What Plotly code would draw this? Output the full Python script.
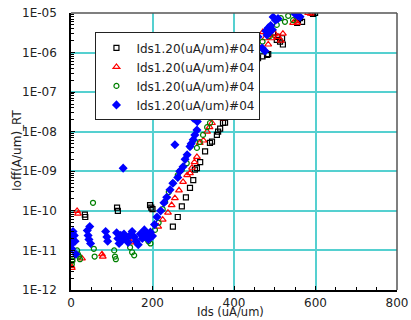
import plotly.graph_objects as go

# Off-state leakage vs drive current, four measurement groups
series_name = "Ids1.20(uA/um)#04"

black_x = [2, 2, 3, 34, 35, 113, 115, 194, 197, 200, 250, 262, 272, 282, 292, 300, 304,
           309, 317, 329, 341, 346, 358, 361, 366, 373, 378, 390, 395, 402, 459, 470, 481,
           484, 496, 505, 508, 513, 518, 520, 555, 557, 562, 567, 591, 594, 599]
black_y = [2.2e-11, 1.8e-11, 6e-12, 8e-11, 7e-11, 1.2e-10, 1.0e-10, 1.4e-10, 1.2e-10, 1.1e-10,
           4e-11, 7e-11, 1.3e-10, 2.2e-10, 3.8e-10, 6e-10, 1.1e-09,
           1.2e-09, 1.7e-09, 3.2e-09, 5.2e-09, 5.6e-09, 8.3e-09, 1.0e-08, 1.2e-08, 1.66e-08, 1.7e-08,
           2.6e-08, 3.0e-08, 4.8e-08, 7.2e-07, 8e-07, 8.7e-07,
           9.1e-07, 3.2e-06, 2.1e-06, 2.5e-06, 1.9e-06, 2.3e-06, 1.6e-06, 5.6e-06, 6.6e-06, 7.4e-06,
           6.0e-06, 1.0e-05, 9.5e-06, 1.0e-05]

red_x = [1, 2, 15, 17, 27, 76, 78, 147, 199, 214, 225, 238, 247, 255, 265, 275, 285, 292,
         297, 303, 309, 316, 325, 334, 340, 346, 353, 361, 370, 378, 464, 471, 476, 484,
         488, 493, 500, 508, 515, 520, 545, 550, 555, 582, 588]
red_y = [4e-12, 3.6e-12, 1.0e-10, 8.5e-11, 6.3e-12, 8e-12, 7e-12, 1.6e-11, 2.5e-11, 4e-11,
         6e-11, 9e-11, 1.4e-10, 2.1e-10, 3.3e-10, 5.4e-10, 8e-10, 9e-10,
         1.23e-09, 1.7e-09, 2.3e-09, 5.2e-09, 6e-09, 1.0e-08, 1.3e-08, 1.66e-08, 4.2e-08, 3.2e-08,
         2.2e-08, 3.0e-08, 1.3e-06, 3.3e-06, 2.3e-06, 1.6e-06,
         2.8e-06, 2.3e-06, 3.0e-06, 2.5e-06, 2.0e-06, 3.0e-06, 5.6e-06, 6.3e-06, 5.6e-06,
         1.0e-05, 9.6e-06]

green_x = [2, 3, 15, 17, 20, 22, 54, 56, 58, 106, 108, 110, 145, 150, 155, 185, 190, 195,
           206, 215, 225, 231, 240, 250, 262, 267, 272, 284, 292, 300, 309, 316, 324, 334,
           336, 341, 450, 464, 470, 481, 488, 505, 515, 525, 533, 545]
green_y = [4.5e-12, 5.5e-12, 1.0e-11, 8e-12, 7e-12, 6e-12, 1.6e-10, 1.1e-11, 7e-12, 1.0e-11,
           7e-12, 6e-12, 1.2e-11, 9e-12, 7.5e-12, 2.0e-11, 1.7e-11, 1.5e-11,
           3.3e-11, 5e-11, 1.1e-10, 1.7e-10, 3e-10, 5e-10, 8e-10, 1.0e-09, 1.1e-09, 1.6e-09,
           4.2e-09, 6e-09, 3.9e-09, 5.5e-09, 8.3e-09, 1.3e-08,
           3.2e-08, 1.66e-08, 1.2e-06, 1.3e-06, 1.9e-06, 3.2e-06, 2.6e-06, 5.0e-06, 7.4e-06,
           6.0e-06, 8.5e-06, 6.6e-06]

blue_x = [0, 2, 3, 5, 8, 10, 12, 40, 42, 44, 46, 48, 85, 88, 90, 112, 115, 118, 122,
          125, 128, 130, 135, 140, 145, 150, 155, 160, 165, 170, 175, 180, 185, 190, 195,
          200, 205, 211, 220, 228, 235, 243, 250, 255, 262, 267, 275, 280, 285, 292,
          295, 300, 304, 309, 300, 310, 459, 469, 476, 478, 481, 484, 486, 490, 494,
          496, 502, 508, 550, 556, 562]
blue_y = [1.4e-11, 1.1e-11, 2.0e-11, 3.0e-11, 2.4e-11, 1.7e-11, 8e-12, 3.2e-11, 2.4e-11,
          1.9e-11, 4.0e-11, 1.5e-11, 3.0e-11, 2.2e-11, 1.7e-11, 2.8e-11, 2.0e-11, 1.5e-11,
          2.4e-11, 1.8e-11, 1.2e-09, 2.6e-11, 2.0e-11, 1.6e-11, 2.4e-11, 3.0e-11, 2.2e-11,
          1.7e-11, 1.4e-11, 2.6e-11, 2.0e-11, 3.3e-11, 2.5e-11, 1.9e-11, 2.9e-11,
          2.3e-11, 4.5e-11, 7e-11, 1.0e-10, 1.6e-10, 2.2e-10, 3.4e-10, 5e-10, 4.7e-09, 7e-10,
          1.0e-09, 1.3e-09, 2.0e-09, 2.6e-09, 4.2e-09,
          5.0e-09, 6.3e-09, 8.3e-09, 1.1e-08, 2.2e-08, 1.8e-08, 2.5e-06, 1.3e-06, 1.1e-06,
          3.5e-06, 2.8e-06, 4.2e-06, 3.2e-06, 4.8e-06, 3.8e-06,
          7.9e-06, 6.6e-06, 7.2e-06, 9.5e-06, 8.5e-06, 8.0e-06]

x_ticks = [0, 200, 400, 600, 800]
y_ticks = [1e-12, 1e-11, 1e-10, 1e-09, 1e-08, 1e-07, 1e-06, 1e-05]
y_ticktext = ["1E-12", "1E-11", "1E-10", "1E-09", "1E-08", "1E-07", "1E-06", "1E-05"]
y_minor = [m * 10.0 ** e for e in range(-12, -5) for m in range(2, 10)]

FONT = "DejaVu Sans, Verdana, sans-serif"
INK = "#222"
GRID = "#55d0d0"

fig = go.Figure()
fig.add_trace(go.Scatter(
    x=black_x, y=black_y, mode="markers", name=series_name,
    marker=dict(symbol="square-open", size=5, color="black", line=dict(width=1.2))))
fig.add_trace(go.Scatter(
    x=red_x, y=red_y, mode="markers", name=series_name,
    marker=dict(symbol="triangle-up-open", size=6, color="red", line=dict(width=1.2))))
fig.add_trace(go.Scatter(
    x=green_x, y=green_y, mode="markers", name=series_name,
    marker=dict(symbol="circle-open", size=5, color="green", line=dict(width=1.2))))
fig.add_trace(go.Scatter(
    x=blue_x, y=blue_y, mode="markers", name=series_name,
    marker=dict(symbol="diamond", size=7, color="blue", line=dict(width=0))))

fig.update_layout(
    width=411, height=320,
    margin=dict(l=71, r=14, t=13, b=30),
    paper_bgcolor="white", plot_bgcolor="white",
    font=dict(family=FONT, size=12, color=INK),
    showlegend=True,
    legend=dict(
        x=0.075, y=0.93, xanchor="left", yanchor="top",
        bgcolor="white", bordercolor=INK, borderwidth=1,
        font=dict(family=FONT, size=12, color=INK),
        tracegroupgap=0, itemwidth=30,
    ),
    xaxis=dict(
        range=[0, 800], tickvals=x_ticks, ticktext=[str(v) for v in x_ticks],
        showgrid=True, gridcolor=GRID, gridwidth=2,
        showline=True, linecolor="black", linewidth=1.5,
        ticks="inside", ticklen=4, tickcolor="black",
        minor=dict(dtick=50, tick0=0, ticks="inside", ticklen=3, tickcolor="black", showgrid=False),
        ticklabelstandoff=1, zeroline=False, automargin=False,
        tickfont=dict(family=FONT, size=12, color=INK),
    ),
    yaxis=dict(
        type="log", range=[-12, -5], tickvals=y_ticks, ticktext=y_ticktext,
        showgrid=True, gridcolor=GRID, gridwidth=2,
        showline=True, linecolor="black", linewidth=1.5,
        ticks="inside", ticklen=4, tickcolor="black",
        minor=dict(tickvals=y_minor, ticks="inside", ticklen=3, tickcolor="black", showgrid=False),
        ticklabelstandoff=10, zeroline=False, automargin=False,
        tickfont=dict(family=FONT, size=12, color=INK),
    ),
    shapes=[
        dict(type="line", xref="paper", yref="paper", x0=0, x1=1, y0=1, y1=1,
             line=dict(color="#555", width=1.5), layer="above"),
        dict(type="line", xref="paper", yref="paper", x0=1, x1=1, y0=0, y1=1,
             line=dict(color="#555", width=1.5), layer="above"),
    ],
    annotations=[
        dict(text="Ids (uA/um)", xref="paper", yref="paper", x=0.488, y=-0.108,
             xanchor="center", yanchor="bottom", showarrow=False, borderpad=0,
             font=dict(family=FONT, size=11.5, color=INK)),
        dict(text="Ioff(A/um)_RT", xref="paper", yref="paper", x=-0.166, y=0.505,
             xanchor="center", yanchor="middle", textangle=-90, showarrow=False,
             font=dict(family=FONT, size=12, color=INK)),
    ],
)

fig.write_html("out.html")
